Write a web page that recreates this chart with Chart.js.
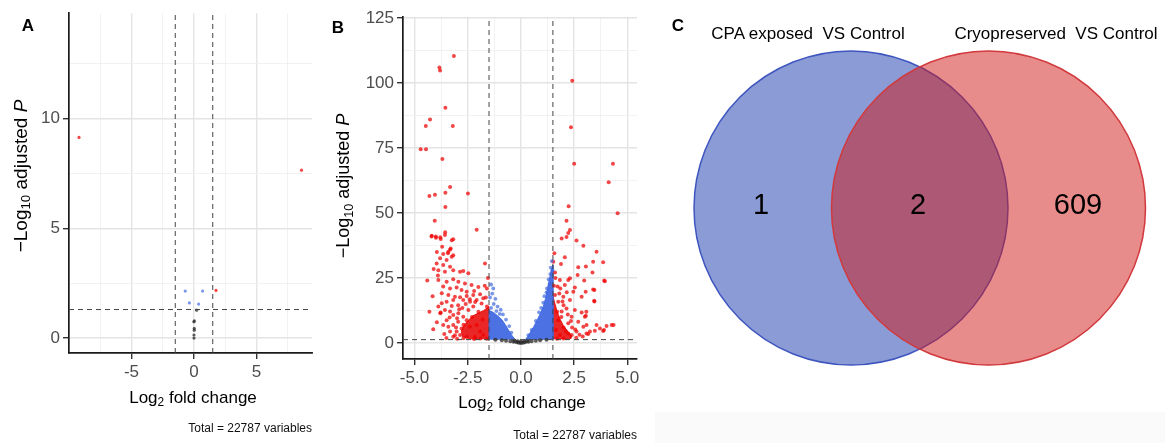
<!DOCTYPE html>
<html>
<head>
<meta charset="utf-8">
<script src="https://cdn.jsdelivr.net/npm/chart.js@4.4.1/dist/chart.umd.min.js"></script>
<style>
  body { margin: 0; background: #fff; width: 1165px; height: 443px; overflow: hidden; position: relative;
         font-family: "Liberation Sans", Arial, sans-serif; }
  canvas { position: absolute; top: 0; }
  .t { position: absolute; transform: translate(-50%, -50%); white-space: pre; color: #000; line-height: 1; }
  .rot { transform: translate(-50%, -50%) rotate(-90deg); }
  .r { position: absolute; transform: translateY(-50%); white-space: pre; line-height: 1; font-size: 12px; color: #111; }
  .lt { font-weight: bold; font-size: 17px; }
  sub { font-size: 70%; vertical-align: -0.3em; line-height: 0; }
  #box { position: absolute; left: 655px; top: 412px; width: 510px; height: 31px; background: #fafafa; }
</style>
</head>
<body>
<div id="box"></div>
<canvas id="volcanoA" width="330" height="443" style="left:0"></canvas>
<canvas id="volcanoB" width="320" height="443" style="left:330px"></canvas>
<canvas id="venn" width="515" height="443" style="left:650px"></canvas>

<div class="t lt" style="left:28px;top:25px">A</div>
<div class="t rot" style="left:20px;top:176px;font-size:19px">−Log<sub>10</sub> adjusted <i>P</i></div>
<div class="t" style="left:193px;top:397px;font-size:17px">Log<sub>2</sub> fold change</div>
<div class="r" style="right:853px;top:428px">Total = 22787 variables</div>

<div class="t lt" style="left:338px;top:27px">B</div>
<div class="t rot" style="left:343px;top:186px;font-size:18px">−Log<sub>10</sub> adjusted <i>P</i></div>
<div class="t" style="left:522px;top:402px;font-size:17px">Log<sub>2</sub> fold change</div>
<div class="r" style="right:528px;top:435px">Total = 22787 variables</div>

<div class="t lt" style="left:678px;top:25px">C</div>
<div class="t" id="setA" style="left:808px;top:33px;font-size:17px"></div>
<div class="t" id="setB" style="left:1056px;top:33px;font-size:17px"></div>

<script>
const FONT = '"Liberation Sans", Arial, sans-serif';

// cut-offs used in both volcano plots
const fcCut = 1.5;
const pCut = 1.3;

// Panel A (CPA exposed vs control)
const aRed = [[-9.2, 9.14], [8.6, 7.65], [1.76, 2.17]];
const aBlue = [[-0.7, 2.14], [0.69, 2.14], [-0.37, 1.6], [0.37, 1.55]];
const aGrey = [[0.21, 1.27], [0.03, 0.78], [-0.01, 0.74], [0.02, 0.44], [0.02, 0.36], [0.0, 0.14], [0.0, 0.0]];
const aXMajor = [-5, 0, 5];
const aXMinor = [-7.5, -2.5, 2.5, 7.5];
const aYMajor = [0, 5, 10];
const aYMinor = [2.5, 7.5, 12.5];

// Panel B (cryopreserved vs control)
const bRed = [
  [-3.15, 110.4], [-3.83, 106], [-3.8, 104.8], [-3.55, 90.5], [-4.27, 86], [-4.47, 83.5], [-3.2, 83.5],
  [-4.71, 74.5], [-4.46, 74.5], [-3.69, 70.8], [-3.33, 60], [-3.55, 57.8], [-4.3, 56.5], [-4.04, 57],
  [-2.49, 57.5], [-3.55, 52.3], [-4.05, 47], [-2.08, 43.6], [-3.56, 42.6], [-4.2, 41], [-4.0, 41],
  [-3.79, 40.7], [-3.18, 39.9], [-3.3, 36.4], [-3.43, 34.5], [-3.18, 33.8],
  [-3.99, 40.5], [-3.77, 40], [-3.57, 41.5], [-4.19, 41.3],
  [-3.25, 39.5], [-3.33, 36], [-3.41, 35.1], [-3.65, 34.2], [-3.25, 33.2],
  [-3.8, 32.6], [-3.49, 31.9], [-3.96, 30.6], [-3.65, 30], [-3.33, 29.3], [-1.69, 30.6],
  [-3.88, 28], [-3.57, 27.4], [-3.18, 28], [-2.86, 27.4], [-2.71, 27.7], [-2.47, 26.8], [-4.4, 24],
  [-3.88, 24.2], [-3.49, 23.6], [-3.18, 24.5], [-2.94, 23.6], [-2.63, 22.9], [-2.32, 22.3], [-3.65, 21.7],
  [-3.33, 21], [-3.02, 21.4], [-2.79, 20.4], [-2.55, 19.7], [-3.72, 19.1], [-3.41, 18.5], [-3.1, 17.8],
  [-2.86, 17.6], [-2.55, 18.1], [-2.24, 18.5], [-1.92, 18.8], [-1.77, 17.2], [-2.08, 16.5], [-2.39, 15.9],
  [-2.71, 16.5], [-3.18, 16.5], [-3.49, 15.9], [-3.72, 15.3],
  [-3.77, 11.7], [-4.12, 5.3], [-3.33, 12.1], [-3.49, 8.8], [-3.18, 6.9], [-3.65, 6.9], [-3.33, 4.4],
  [-3.02, 4.4], [-2.79, 5.6], [-3.88, 14], [-3.57, 12.7], [-3.18, 10.8], [-2.94, 11.4], [-2.71, 10.1],
  [-2.47, 12.7], [-2.24, 14], [-2.55, 8.8], [-2.39, 6.3], [-2.08, 6.9], [-1.92, 4.4], [-1.77, 3.1],
  [-2.86, 3.1], [-3.18, 2.4], [-2.55, 2.4], [-2.16, 2.4], [-3.41, 6.3], [-3.79, 11.4],
  [-2.9, 13], [-2.6, 15], [-2.0, 12], [-1.6, 14], [-1.8, 9], [-2.3, 10], [-2.7, 7], [-3.0, 9.5],
  [-1.6, 21], [-1.55, 25], [-1.7, 22], [-2.0, 21.5], [-2.2, 20], [-3.9, 26], [-4.1, 28.5], [-3.95, 35],
  [-3.7, 37], [-4.15, 18], [-4.3, 12], [-3.95, 8], [-3.6, 3.5], [-2.7, 1.8], [-3.0, 1.6], [-2.2, 1.5],
  [-1.9, 1.7], [-1.6, 1.6], [-2.95, 14.5], [-2.75, 13.5], [-2.4, 16.8], [-2.15, 15.8], [-1.85, 15.2],
  [-1.65, 17.5], [-3.05, 6], [-3.1, 3], [-2.95, 8.2], [-3.35, 9.8], [-3.5, 1.9], [-3.25, 14.2],
  [2.41, 100.9], [2.35, 83], [2.5, 69], [4.32, 69], [4.12, 61.8], [4.54, 49.9], [2.24, 52.6], [2.14, 47],
  [2.3, 43.5], [2.22, 42.3], [2.14, 40.8], [1.91, 40.2], [2.61, 39.4], [2.93, 37.4], [3.55, 35.1],
  [2.06, 33], [3.39, 31.3], [3.86, 31.1], [1.57, 34.5], [1.52, 31.3], [1.88, 30.4], [2.69, 29.1],
  [3.05, 29.4], [3.36, 27.1], [3.91, 24], [2.66, 26.2], [2.3, 24.9], [2.22, 24.2], [2.97, 24], [1.6, 27.1],
  [1.83, 24.2], [1.72, 21.7], [2.06, 22.3], [2.53, 21.4], [2.46, 19.7], [3.04, 19.7], [3.39, 20.6],
  [2.85, 17.8], [3.44, 16.3], [2.3, 16.5], [1.99, 17.8], [1.75, 15.9], [1.6, 18.5], [2.14, 13.3],
  [2.53, 12.7], [2.85, 11.7], [3.0, 10.1], [2.38, 10.1], [1.91, 12.1], [1.75, 8.8], [2.22, 7.6],
  [2.69, 8.2], [3.08, 6.9], [3.55, 6.9], [3.71, 5.6], [4.02, 6.5], [4.26, 6.9], [3.47, 4.7], [3.24, 4.4],
  [2.61, 4.4], [2.22, 3.7], [1.83, 3.1], [2.38, 3.1], [3.16, 3.5], [3.86, 4.6], [2.93, 6.3], [3.08, 3.7],
  [3.9, 5], [4.35, 6.9], [3.94, 23.8], [3.45, 20.4], [3.45, 16], [3.07, 12], [3.05, 10.5],
  [1.7, 12], [1.9, 10], [2.0, 6], [1.65, 5], [2.1, 4.5], [1.55, 22], [1.62, 25], [1.8, 19], [2.0, 14.5],
  [2.4, 6], [2.6, 2], [2.9, 2.5], [2.0, 1.7], [1.7, 1.6], [1.95, 16], [2.2, 11], [2.35, 8.5], [1.85, 21],
  [2.15, 19.5], [2.55, 5.2], [2.75, 3.2]
];
const bBlue = [
  [-1.4, 22.5], [-1.3, 21], [-1.35, 19], [-1.45, 17.5], [-1.2, 17], [-1.28, 15], [-1.1, 14], [-1.4, 13.5],
  [-0.95, 12.8], [-1.15, 12.3], [-0.85, 11], [-0.7, 9], [-0.55, 6.5], [-0.45, 4], [-1.0, 11.2],
  [1.45, 31.5], [1.4, 29], [1.38, 26.5], [1.3, 24.5], [1.22, 21], [1.35, 22.5], [1.1, 18], [1.2, 19.5],
  [1.05, 15.5], [0.95, 13.5], [0.85, 11.8], [1.48, 28], [0.7, 8.5], [0.5, 5], [0.35, 3]
];
const bGrey = [
  [-1.2, 1.25], [-0.9, 1.1], [-0.7, 0.9], [-0.5, 0.7], [-0.35, 0.5], [-0.2, 0.3], [-0.1, 0.1], [0, 0],
  [0.1, 0.1], [0.2, 0.3], [0.35, 0.5], [0.5, 0.7], [0.7, 0.9], [0.9, 1.1], [1.2, 1.25], [-0.3, 0.9],
  [0.3, 0.9], [0, 0.5], [-0.15, 0.7], [0.15, 0.7]
];
// outlines of the areas where the points are so dense that they merge
const bBlueDenseL = [[-1.5, 1.3], [-1.5, 12.5], [-1.3, 11.8], [-1.1, 10.5], [-0.9, 9], [-0.75, 7.2], [-0.6, 5.2], [-0.45, 3.2], [-0.32, 1.8], [-0.25, 1.3]];
const bBlueDenseR = [[0.2, 1.3], [0.32, 2.5], [0.45, 4.2], [0.6, 6.3], [0.75, 8.6], [0.9, 11.2], [1.05, 14], [1.15, 17], [1.25, 21], [1.35, 25], [1.42, 28], [1.5, 30], [1.5, 1.3]];
const bRedDenseL = [[-1.5, 1.4], [-1.5, 14], [-1.75, 12.5], [-2.0, 11.5], [-2.25, 10.5], [-2.5, 8.5], [-2.7, 6.5], [-2.8, 4.5], [-2.75, 2.5], [-2.4, 1.6], [-2.0, 1.4]];
const bRedDenseR = [[1.5, 1.4], [1.5, 18], [1.6, 15], [1.7, 12], [1.85, 9], [2.0, 6.5], [2.2, 4.5], [2.35, 3], [2.35, 1.8], [2.1, 1.4]];
const bXMajor = [-5, -2.5, 0, 2.5, 5];
const bXMinor = [-3.75, -1.25, 1.25, 3.75];
const bYMajor = [0, 25, 50, 75, 100, 125];
const bYMinor = [12.5, 37.5, 62.5, 87.5, 112.5];

// Panel C (Venn)
const vennSets = ['CPA exposed  VS Control', 'Cryopreserved  VS Control'];
const vennCounts = [1, 2, 609]; // CPA only, both, cryopreserved only

const RED = 'rgba(238, 0, 0, 0.72)';
const BLUE = 'rgba(65, 105, 225, 0.7)';
const GREY = 'rgba(40, 40, 40, 0.75)';

function toPts(arr) {
  return arr.map(p => ({ x: p[0], y: p[1] }));
}

function points(arr, color, r) {
  return { type: 'scatter', data: toPts(arr), backgroundColor: color, borderWidth: 0, pointRadius: r, order: 2 };
}

function area(arr, color) {
  return { type: 'line', data: toPts(arr), backgroundColor: color, borderColor: color, borderWidth: 1,
           pointRadius: 0, fill: 'shape', tension: 0, order: 3 };
}

function cutLines(xr, yr) {
  const dash = { type: 'line', borderColor: '#444', borderWidth: 1, borderDash: [5, 4], pointRadius: 0, fill: false, order: 0 };
  return [
    { ...dash, data: [{ x: -fcCut, y: yr[0] }, { x: -fcCut, y: yr[1] }] },
    { ...dash, data: [{ x: fcCut, y: yr[0] }, { x: fcCut, y: yr[1] }] },
    { ...dash, data: [{ x: xr[0], y: pCut }, { x: xr[1], y: pCut }] }
  ];
}

function axis(range, major, minor, fmt, fit) {
  const isMajor = ctx => ctx.tick && major.includes(ctx.tick.value);
  return {
    type: 'linear', min: range[0], max: range[1],
    afterBuildTicks: s => { s.ticks = major.concat(minor).sort((a, b) => a - b).map(v => ({ value: v })); },
    afterFit: fit,
    ticks: { autoSkip: false, maxRotation: 0, color: '#4d4d4d', padding: 3,
             font: { family: FONT, size: 17 },
             callback: v => (major.includes(v) ? fmt(v) : '') },
    grid: { color: ctx => (isMajor(ctx) ? '#e4e4e4' : '#efefef'),
            lineWidth: ctx => (isMajor(ctx) ? 1.4 : 0.8),
            tickColor: ctx => (isMajor(ctx) ? '#333' : 'rgba(0,0,0,0)'),
            tickLength: 6 },
    border: { display: true, color: '#1a1a1a', width: 1.7 }
  };
}

function volcano(id, sets, xr, yr, xt, yt, fmtX, pad, yW, xH) {
  return new Chart(document.getElementById(id), {
    type: 'scatter',
    data: { datasets: cutLines(xr, yr).concat(sets) },
    options: {
      responsive: false, animation: false, devicePixelRatio: 1,
      layout: { padding: pad, autoPadding: false },
      plugins: { legend: { display: false }, tooltip: { enabled: false } },
      scales: {
        x: axis(xr, xt[0], xt[1], fmtX, s => { s.height = xH; }),
        y: axis(yr, yt[0], yt[1], v => String(v), s => { s.width = yW; })
      }
    }
  });
}

volcano('volcanoA',
  [points(aGrey, GREY, 1.6), points(aBlue, BLUE, 1.6), points(aRed, RED, 1.6)],
  [-10, 9.44], [-0.68, 14.8], [aXMajor, aXMinor], [aYMajor, aYMinor],
  v => String(v), { left: 0, top: 11, right: 18, bottom: 0 }, 69, 90);

volcano('volcanoB',
  [area(bBlueDenseL, 'rgba(65,105,225,0.95)'), area(bBlueDenseR, 'rgba(65,105,225,0.95)'),
   area(bRedDenseL, 'rgba(232,0,0,0.85)'), area(bRedDenseR, 'rgba(232,0,0,0.85)'),
   points(bGrey, GREY, 2), points(bBlue, BLUE, 1.9), points(bRed, RED, 2)],
  [-5.54, 5.45], [-6.15, 125.4], [bXMajor, bXMinor], [bYMajor, bYMinor],
  v => v.toFixed(1), { left: 0, top: 17, right: 13, bottom: 0 }, 73, 84);

// Venn diagram: two overlapping circles, counts written inside each region
document.getElementById('setA').textContent = vennSets[0];
document.getElementById('setB').textContent = vennSets[1];

const countPos = [[111, 206], [268, 206], [428, 206]];

const vennText = {
  id: 'vennText',
  afterDatasetsDraw(chart) {
    const { ctx, scales: { x, y } } = chart;
    ctx.save();
    ctx.font = '29px ' + FONT;
    ctx.fillStyle = '#000';
    ctx.textAlign = 'center';
    ctx.textBaseline = 'middle';
    vennCounts.forEach((c, i) => {
      ctx.fillText(String(c), x.getPixelForValue(countPos[i][0]), y.getPixelForValue(countPos[i][1]));
    });
    ctx.restore();
  }
};

new Chart(document.getElementById('venn'), {
  type: 'bubble',
  data: {
    datasets: [
      { label: vennSets[1], data: [{ x: 338.5, y: 208, r: 157 }], backgroundColor: 'rgba(209, 23, 23, 0.5)',
        borderColor: '#d1393d', borderWidth: 1.5, clip: false, order: 0 },
      { label: vennSets[0], data: [{ x: 201, y: 208, r: 157 }], backgroundColor: 'rgba(21, 55, 173, 0.5)',
        borderColor: '#3e55bf', borderWidth: 1.5, clip: false, order: 1 }
    ]
  },
  options: {
    responsive: false, animation: false, devicePixelRatio: 1,
    layout: { padding: 0, autoPadding: false },
    plugins: { legend: { display: false }, tooltip: { enabled: false } },
    scales: {
      x: { type: 'linear', min: 0, max: 515, display: false },
      y: { type: 'linear', min: 0, max: 443, reverse: true, display: false }
    }
  },
  plugins: [vennText]
});
</script>
</body>
</html>
